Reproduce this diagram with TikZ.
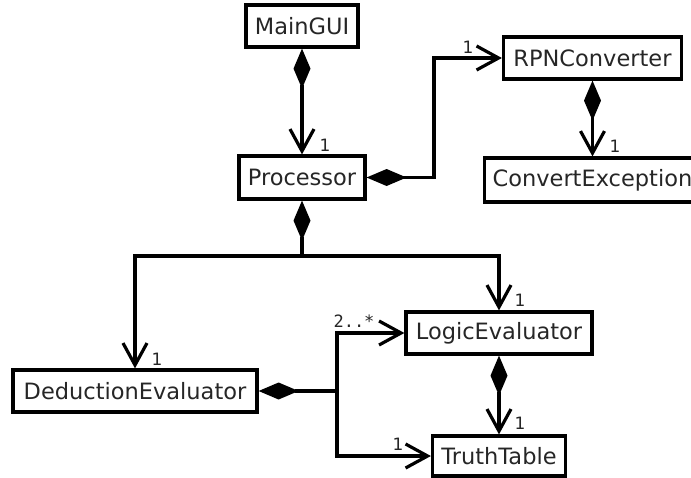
\documentclass[tikz,border=0pt]{standalone}
\usepackage{fontspec}
\setmainfont{DejaVu Sans}
\setmonofont{DejaVu Sans Mono}
\usetikzlibrary{arrows.meta}
\begin{document}
\begin{tikzpicture}[x=1pt,y=-1pt,
  cls/.style={draw,line width=3.2pt,rectangle,inner sep=0pt,font=\fontsize{22.5}{26}\selectfont,text=black!85},
  conn/.style={line width=3.2pt},
  comp/.style={conn,{Diamond[length=40pt,width=17pt]}-{Straight Barb[length=22pt,width=24pt]}},
  compnoarrow/.style={conn,{Diamond[length=40pt,width=17pt]}-},
  assoc/.style={conn,-{Straight Barb[length=22pt,width=24pt]}},
  mult/.style={inner sep=0pt,font=\fontsize{17}{19}\selectfont,text=black!85}
]
\useasboundingbox (0,0) rectangle (691,477);
\node[cls,minimum width=112pt,minimum height=42pt] (main) at (302,26) {MainGUI};
\node[cls,minimum width=126pt,minimum height=43pt] (proc) at (302,177.5) {Processor};
\node[cls,minimum width=178pt,minimum height=42pt] (rpn) at (592.5,58) {RPNConverter};
\node[cls,minimum width=220pt,minimum height=44pt,anchor=west,text width=204pt,align=left] (conv) at (483,180) {ConvertException};
\node[cls,minimum width=244pt,minimum height=42pt] (ded) at (135,391) {DeductionEvaluator};
\node[cls,minimum width=186pt,minimum height=42pt] (logic) at (499,333) {LogicEvaluator};
\node[cls,minimum width=133pt,minimum height=40pt] (truth) at (499,456) {TruthTable};

\coordinate (j1) at (302,256);
\coordinate (j2) at (337,391);
\coordinate (k1) at (434,177.5);

\draw[comp] (main.south) -- (proc.north);
\draw[comp] (proc.east) -- (k1) |- (rpn.west);
\draw[comp] (rpn.south) -- (rpn.south |- conv.north);
\draw[compnoarrow] (proc.south) -- (j1);
\draw[assoc] (j1) -| (ded.north);
\draw[assoc] (j1) -| (logic.north);
\draw[compnoarrow] (ded.east) -- (j2);
\draw[assoc] (j2) |- (logic.west);
\draw[assoc] (j2) |- (truth.west);
\draw[comp] (logic.south) -- (truth.north);

\node[mult] (m1) at (325,145) {1};
\node[mult] (m2) at (468,47) {1};
\node[mult] (m3) at (615,146) {1};
\node[mult] (m4) at (157,359) {1};
\node[mult] (m5) at (520,300) {1};
\node[mult,font=\ttfamily\fontsize{17}{19}\selectfont] (m6) at (354,321) {2..*};
\node[mult] (m7) at (398,444) {1};
\node[mult] (m8) at (520,423) {1};
\end{tikzpicture}
\end{document}
